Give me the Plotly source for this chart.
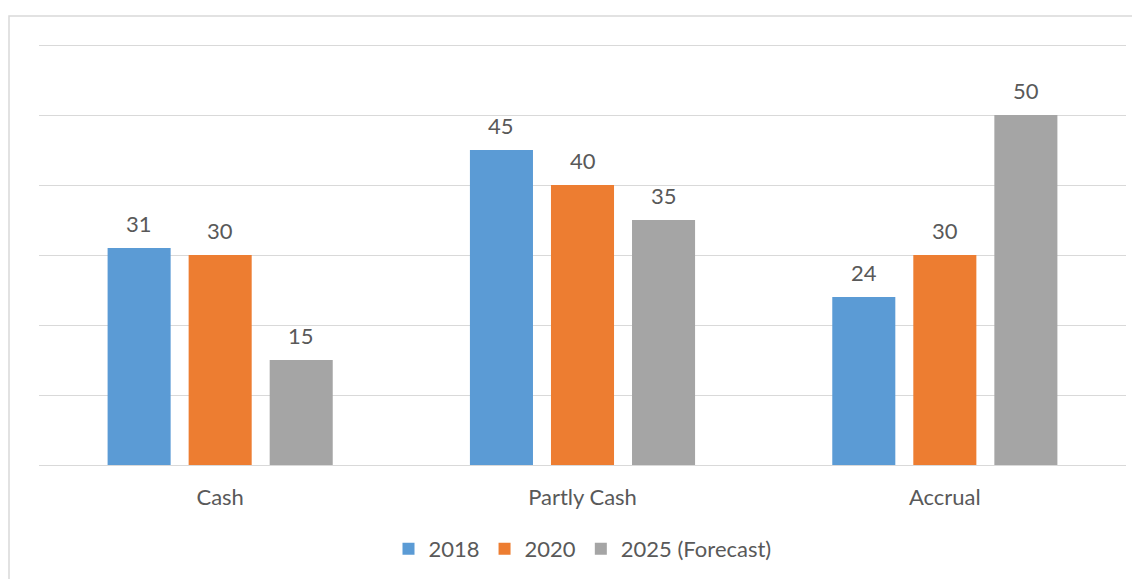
import plotly.graph_objects as go

categories = ["Cash", "Partly Cash", "Accrual"]
series_names = ["2018", "2020", "2025 (Forecast)"]
values_2018 = [31, 45, 24]
values_2020 = [30, 40, 30]
values_2025 = [15, 35, 50]
colors = ["#5B9BD5", "#ED7D31", "#A5A5A5"]
y_ticks = [0, 10, 20, 30, 40, 50, 60]

# page body adds an 8px offset; figure sized so it fills the 1140x579 view
OFF = 8
W, H = 1140 - OFF, 579 - OFF
ml, mr, mt, mb = 39 - OFF, 14, 44 - OFF, 114
TXT = "#595959"
FONT = "Lato"
FS = 22
BARGAP = 0.329
GROUPGAP = 0.222

fig = go.Figure()
all_vals = [values_2018, values_2020, values_2025]
for name, vals, col in zip(series_names, all_vals, colors):
    fig.add_trace(go.Bar(
        x=categories, y=vals, name=name, marker_color=col, marker_line_width=0,
    ))

# data labels above each bar (position derived from the grouped-bar layout)
n = len(series_names)
slot = (1 - BARGAP) / n
for i, vals in enumerate(all_vals):
    off = (i - (n - 1) / 2) * slot
    for j, v in enumerate(vals):
        fig.add_annotation(x=j + off, y=v, text=str(v), showarrow=False,
                           xref="x", yref="y", yanchor="bottom", yshift=9,
                           font=dict(family=FONT, size=FS, color=TXT))

pw = W - ml - mr
ph = H - mt - mb
fig.add_shape(type="rect", xref="paper", yref="paper",
              x0=(9 - OFF - ml) / pw, x1=(W + 20 - ml) / pw,
              y0=-(H + 20 - mt - ph) / ph, y1=(H - mb - (16 - OFF)) / ph,
              line=dict(color="#D9D9D9", width=1.5), fillcolor="rgba(0,0,0,0)", layer="below")

fig.update_layout(
    width=W, height=H, margin=dict(l=ml, r=mr, t=mt, b=mb),
    paper_bgcolor="white", plot_bgcolor="white",
    barmode="group", bargap=BARGAP, bargroupgap=GROUPGAP,
    font=dict(family=FONT, size=FS, color=TXT),
    showlegend=True,
    legend=dict(orientation="h", x=0.5, xref="paper", xanchor="center",
                y=(H - (549 - OFF)) / H, yref="container", yanchor="middle",
                font=dict(family=FONT, size=FS, color=TXT), traceorder="normal",
                itemwidth=30),
    xaxis=dict(showgrid=False, showline=False, ticks="", tickfont=dict(size=FS, color=TXT),
               ticklabelstandoff=17),
    yaxis=dict(range=[0, y_ticks[-1] * 1.0025], tickvals=y_ticks, showticklabels=False,
               showgrid=True, gridcolor="#D9D9D9", gridwidth=1.3, zeroline=True,
               zerolinecolor="#D9D9D9", zerolinewidth=1.3, showline=False),
)
fig.write_html("out.html")
